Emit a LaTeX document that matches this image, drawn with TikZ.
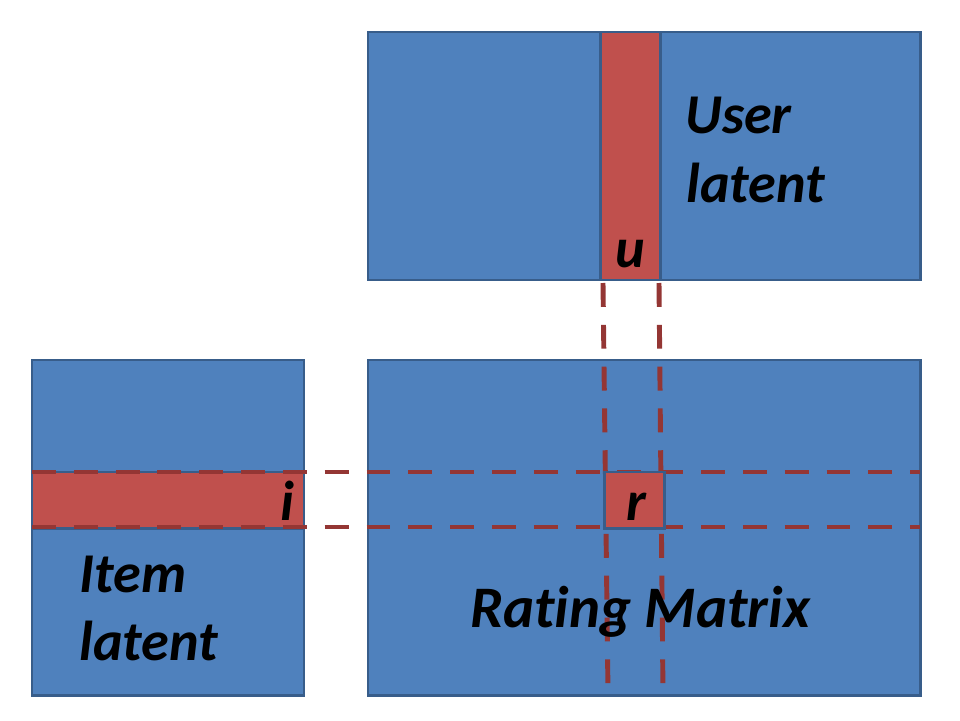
\documentclass[tikz,border=0pt]{standalone}
\usepackage{fontspec}
\setmainfont{Carlito}[Ligatures=NoCommon]
\definecolor{boxblue}{HTML}{4F81BD}
\definecolor{boxline}{HTML}{385D8A}
\definecolor{slicered}{HTML}{C0504D}
\definecolor{guidered}{HTML}{943634}
\tikzset{
  latent/.style={draw=boxline, fill=boxblue, line width=1.7pt},
  slice/.style={draw=boxline, fill=slicered, line width=1.7pt},
  guide/.style={draw=guidered, line width=2.8pt, dash pattern=on 13.6pt off 10.2pt},
  lbl/.style={font=\fontsize{32}{38}\selectfont\bfseries\itshape, inner sep=0pt, anchor=base west},
  small/.style={font=\fontsize{32}{38}\selectfont\bfseries\itshape, inner sep=0pt, anchor=base}
}
\begin{document}
\begin{tikzpicture}[x=0.02cm,y=-0.02cm]
\useasboundingbox (0,0) rectangle (960,720);
% user latent
\draw[latent] (368,32) rectangle (920,280);
\draw[slice] (600,32) rectangle (660,280);
% item latent
\draw[latent] (32,360) rectangle (304,695);
\draw[slice] (32,472) rectangle (304,528);
% rating matrix
\draw[latent] (368,360) rectangle (920,695);
\coordinate (ut1) at (603,283);
\coordinate (ut2) at (659,283);
\coordinate (ub1) at (608,693);
\coordinate (ub2) at (663,693);
\coordinate (il1) at (32,472);
\coordinate (il2) at (32,527);
\coordinate (ir1) at (920,472);
\coordinate (ir2) at (920,527);
\draw[guide] (ut1) -- (ub1);
\draw[guide] (ut2) -- (ub2);
\draw[guide] (il1) -- (ir1);
\draw[guide] (il2) -- (ir2);
\draw[slice] (604,472) rectangle (664,528);
% labels
\node[lbl] (user) at (685,133) {User};
\node[lbl] (userb) at (686,202) {latent};
\node[lbl] (item) at (79,592) {Item};
\node[lbl] (itemb) at (79,660) {latent};
\node[small] (u) at (630,267) {u};
\node[small] (i) at (287,520) {i};
\node[small] (r) at (636,520) {r};
\node[lbl, font=\fontsize{33.5}{40}\selectfont\bfseries\itshape] (rating) at (470,627) {Rating Matrix};
\end{tikzpicture}
\end{document}
